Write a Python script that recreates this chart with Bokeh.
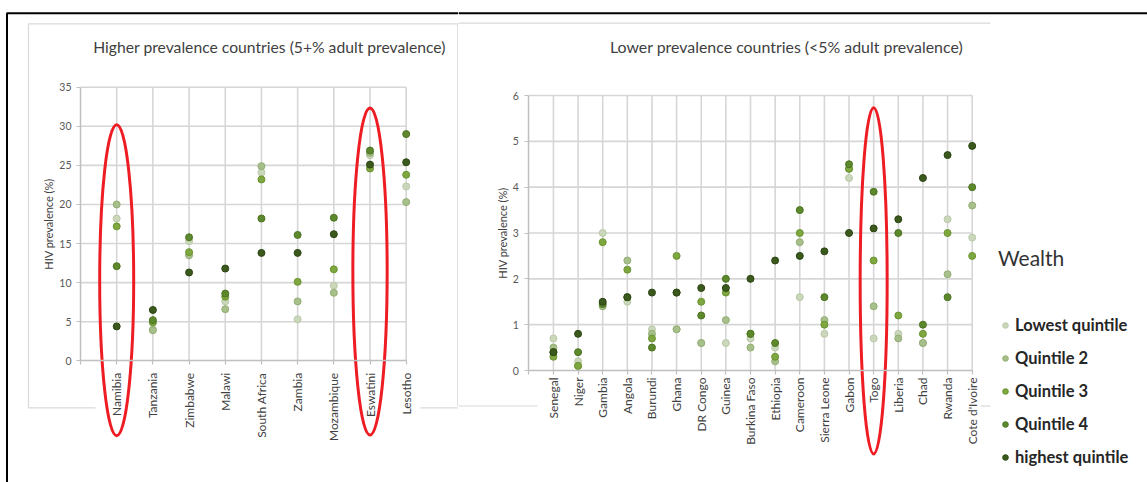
import math
import numpy as np
from bokeh.plotting import figure
from bokeh.models import Range1d, FixedTicker, Legend, LegendItem
from bokeh.layouts import row
from bokeh.core.properties import value
from bokeh.embed import file_html
from bokeh.resources import INLINE

# ---------------- data ----------------
quintiles = ["Lowest quintile", "Quintile 2", "Quintile 3", "Quintile 4", "highest quintile"]

high_countries = ["Namibia", "Tanzania", "Zimbabwe", "Malawi", "South Africa",
                  "Zambia", "Mozambique", "Eswatini", "Lesotho"]
high_lowest = [18.2, 4.0, 15.3, 7.6, 24.1, 5.3, 9.6, 26.3, 22.3]
high_q2 = [20.0, 3.9, 13.5, 6.6, 24.9, 7.6, 8.7, 26.6, 20.3]
high_q3 = [17.2, 4.9, 13.9, 8.2, 23.2, 10.1, 11.7, 24.6, 23.8]
high_q4 = [12.1, 5.2, 15.8, 8.6, 18.2, 16.1, 18.3, 26.9, 29.0]
high_highest = [4.4, 6.5, 11.3, 11.8, 13.8, 13.8, 16.2, 25.1, 25.4]

low_countries = ["Senegal", "Niger", "Gambia", "Angola", "Burundi", "Ghana", "DR Congo",
                 "Guinea", "Burkina Faso", "Ethiopia", "Cameroon", "Sierra Leone", "Gabon",
                 "Togo", "Liberia", "Chad", "Rwanda", "Cote d'Ivoire"]
low_lowest = [0.7, 0.2, 3.0, 1.5, 0.9, 0.9, 0.6, 0.6, 0.7, 0.5, 1.6, 0.8, 4.2, 0.7, 0.8, 0.6, 3.3, 2.9]
low_q2 = [0.5, 0.1, 1.4, 2.4, 0.8, 0.9, 0.6, 1.1, 0.5, 0.2, 2.8, 1.1, 4.4, 1.4, 0.7, 0.6, 2.1, 3.6]
low_q3 = [0.3, 0.1, 2.8, 2.2, 0.7, 2.5, 1.5, 1.7, 0.8, 0.3, 3.0, 1.0, 4.4, 2.4, 1.2, 0.8, 3.0, 2.5]
low_q4 = [0.4, 0.4, 1.45, 1.6, 0.5, 1.7, 1.2, 2.0, 0.8, 0.6, 3.5, 1.6, 4.5, 3.9, 3.0, 1.0, 1.6, 4.0]
low_highest = [0.4, 0.8, 1.5, 1.6, 1.7, 1.7, 1.8, 1.8, 2.0, 2.4, 2.5, 2.6, 3.0, 3.1, 3.3, 4.2, 4.7, 4.9]

high_yticks = [0, 5, 10, 15, 20, 25, 30, 35]
low_yticks = [0, 1, 2, 3, 4, 5, 6]

high_title = "Higher prevalence countries (5+% adult prevalence)"
low_title = "Lower prevalence countries (<5% adult prevalence)"
y_title = "HIV prevalence (%)"
legend_title = "Wealth"
highlight_high = ["Namibia", "Eswatini"]
highlight_low = ["Togo"]

# ---------------- styles ----------------
fill_colors = ["#cad7bb", "#a7bf8a", "#7ea83f", "#5d892c", "#3b591c"]
edge_colors = ["#b9c9a7", "#93ae74", "#6a9331", "#4b7322", "#2c4513"]
FONT = "Lato"
GRID = "#d6d6d6"
AXIS = "#bfbfbf"
BOX = "#d9d9d9"
RED = "#ee1d23"

# page-pixel geometry -> data (decorations only)
SX1 = (405.7 - 80.0) / 9.0
SY1 = (360.3 - 86.7) / 35.0
def Lx(px): return (px - 80.0) / SX1
def Ly(py): return (360.3 - py) / SY1

SX2 = (971.7 - 528.3) / 18.0
SY2 = (370.0 - 95.0) / 6.0
def Rx(px): return (px - 528.3) / SX2
def Ry(py): return (370.0 - py) / SY2

H = 482
W1 = 458
W2 = 689


def base_fig(w, xr, yr):
    p = figure(width=w, height=H, x_range=xr, y_range=yr, output_backend="svg",
               toolbar_location=None, min_border=0, title=None)
    p.outline_line_color = None
    p.background_fill_color = "white"
    p.border_fill_color = "white"
    p.xgrid.visible = False
    p.ygrid.visible = False
    return p


def style_axes(p, n, cats, yticks, xstand, ystand, lstand):
    xa = p.xaxis[0]
    ya = p.yaxis[0]
    xa.fixed_location = 0
    ya.fixed_location = 0
    xa.bounds = (0, n)
    ya.bounds = (yticks[0], yticks[-1])
    xa.ticker = FixedTicker(ticks=list(range(0, n + 1)))
    ov = {0: ""}
    for i, c in enumerate(cats):
        ov[i + 1] = c
    xa.major_label_overrides = ov
    xa.major_label_orientation = math.pi / 2
    ya.ticker = FixedTicker(ticks=yticks)
    for a in (xa, ya):
        a.axis_line_color = AXIS
        a.axis_line_width = 1.5
        a.major_tick_line_color = AXIS
        a.major_tick_line_width = 1.2
        a.major_tick_in = 0
        a.major_tick_out = 4
        a.minor_tick_line_color = None
        a.major_label_text_font = FONT
    xa.major_label_text_font_size = "12px"
    xa.major_label_text_color = "#404040"
    xa.major_label_standoff = xstand
    ya.major_label_text_font_size = "10.5px"
    ya.major_label_text_color = "#595959"
    ya.major_label_standoff = ystand
    ya.axis_label = y_title
    ya.axis_label_text_font = FONT
    ya.axis_label_text_font_size = "11px"
    ya.axis_label_text_font_style = "normal"
    ya.axis_label_text_color = "#404040"
    ya.axis_label_standoff = lstand


def grid_lines(p, n, yticks):
    xs = [[i, i] for i in range(1, n + 1)] + [[0, n] for t in yticks[1:]]
    ys = [[yticks[0], yticks[-1]] for i in range(1, n + 1)] + [[t, t] for t in yticks[1:]]
    p.multi_line(xs=xs, ys=ys, line_color=GRID, line_width=1.6)


# ---------------- left panel ----------------
p1 = base_fig(W1, Range1d(Lx(0), Lx(W1)), Range1d(Ly(H), Ly(0)))
p1.multi_line(
    xs=[[Lx(6), Lx(W1)], [Lx(6.5), Lx(6.5)],
        [Lx(28), Lx(457.3)], [Lx(28), Lx(28)], [Lx(28), Lx(95)], [Lx(420), Lx(457.3)],
        [Lx(457.3), Lx(457.3)]],
    ys=[[Ly(12.7), Ly(12.7)], [Ly(12.7), Ly(H)],
        [Ly(23.3), Ly(23.3)], [Ly(23.3), Ly(407.3)], [Ly(407.3), Ly(407.3)], [Ly(407.3), Ly(407.3)],
        [Ly(22.7), Ly(405.5)]],
    line_color=["black", "black", BOX, BOX, BOX, BOX, BOX],
    line_width=[2, 2, 1.2, 1.2, 1.2, 1.2, 1.2])

n1 = len(high_countries)
grid_lines(p1, n1, high_yticks)
style_axes(p1, n1, high_countries, high_yticks, xstand=8, ystand=5, lstand=1)

x1 = np.arange(1, n1 + 1)
for vals, fc, ec in zip([high_lowest, high_q2, high_q3, high_q4, high_highest], fill_colors, edge_colors):
    p1.scatter(x1, vals, size=7, fill_color=fc, line_color=ec, line_width=1)

p1.text(x=[Lx(269)], y=[Ly(46)], text=[high_title], text_font=value(FONT),
        text_font_size="15.7px", text_color="#404040", text_align="center", text_baseline="middle")

hx = [high_countries.index(c) + 1 for c in highlight_high]
p1.ellipse(x=hx, y=[Ly(279.7), Ly(271.0)], width=[34 / SX1, 34.3 / SX1],
           height=[311 / SY1, 327 / SY1], fill_color=None, line_color=RED, line_width=3)

# ---------------- right panel ----------------
p2 = base_fig(W2, Range1d(Rx(W1), Rx(W1 + W2)), Range1d(Ry(H), Ry(0)))
p2.multi_line(
    xs=[[Rx(W1), Rx(W1 + W2)], [Rx(457), Rx(990)], [Rx(457), Rx(537)], [Rx(980), Rx(990)]],
    ys=[[Ry(12.7), Ry(12.7)], [Ry(22.7), Ry(22.7)], [Ry(405.5), Ry(405.5)], [Ry(405.5), Ry(405.5)]],
    line_color=["black", BOX, BOX, BOX], line_width=[2, 1.2, 1.2, 1.2])

n2 = len(low_countries)
grid_lines(p2, n2, low_yticks)
style_axes(p2, n2, low_countries, low_yticks, xstand=3, ystand=6, lstand=0)

x2 = np.arange(1, n2 + 1)
rends = []
for vals, fc, ec in zip([low_lowest, low_q2, low_q3, low_q4, low_highest], fill_colors, edge_colors):
    rends.append(p2.scatter(x2, vals, size=7, fill_color=fc, line_color=ec, line_width=1))

p2.text(x=[Rx(786)], y=[Ry(46)], text=[low_title], text_font=value(FONT),
        text_font_size="15.9px", text_color="#404040", text_align="center", text_baseline="middle")

lx = [low_countries.index(c) + 1 for c in highlight_low]
p2.ellipse(x=lx, y=[Ry(280.3)], width=[27 / SX2], height=[346.3 / SY2],
           fill_color=None, line_color=RED, line_width=3)

legend = Legend(items=[LegendItem(label=q, renderers=[r]) for q, r in zip(quintiles, rends)],
                location=(540, 15), title=legend_title)
legend.title_text_font = FONT
legend.title_text_font_size = "21px"
legend.title_text_font_style = "normal"
legend.title_text_color = "#333333"
legend.title_standoff = 45
legend.label_text_font = FONT
legend.label_text_font_size = "16.5px"
legend.label_text_font_style = "bold"
legend.label_text_color = "#262626"
legend.glyph_width = 14
legend.glyph_height = 20
legend.label_height = 20
legend.label_standoff = 3
legend.spacing = 13
legend.padding = 0
legend.margin = 0
legend.border_line_color = None
legend.background_fill_alpha = 0
p2.add_layout(legend)

layout = row(p1, p2)
open("out.html", "w").write(file_html(layout, INLINE))
